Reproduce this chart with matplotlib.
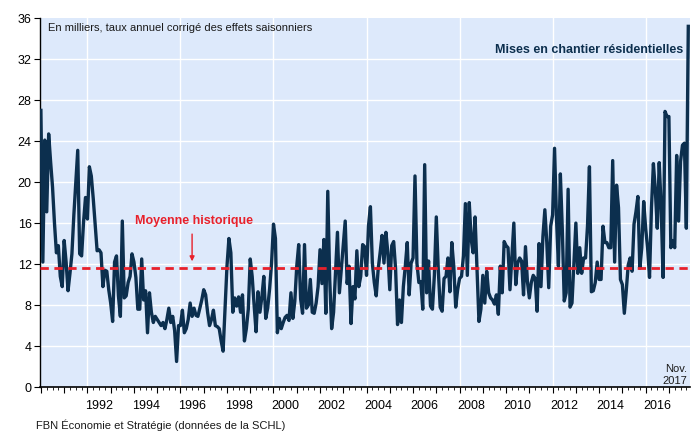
import numpy as np
import matplotlib
matplotlib.use("Agg")
import matplotlib.pyplot as plt

plt.rcParams['font.family'] = ['Liberation Sans', 'DejaVu Sans']

# mises en chantier, milliers (taux annuel desaisonnalise), jan 1990 - nov 2017
y1990 = [27.0, 12.2, 24.1, 17.1, 24.7, 22.0, 19.5, 16.0, 13.1, 13.8, 10.8, 9.8]
y1991 = [14.3, 12.2, 9.4, 11.1, 13.0, 16.8, 20.0, 23.1, 13.0, 12.8, 16.1, 18.5]
y1992 = [16.4, 21.5, 20.6, 18.4, 15.8, 13.3, 13.4, 13.1, 9.8, 11.4, 11.3, 9.5]
y1993 = [8.2, 6.4, 12.2, 12.8, 8.9, 6.9, 16.2, 8.7, 8.9, 10.2, 10.8, 13.0]
y1994 = [12.2, 10.7, 7.6, 7.6, 12.5, 8.5, 9.4, 5.3, 9.2, 7.3, 6.3, 6.9]
y1995 = [6.6, 6.3, 6.0, 6.3, 5.7, 6.6, 7.7, 6.3, 6.9, 5.5, 2.5, 6.0]
y1996 = [6.0, 7.5, 5.3, 5.7, 6.6, 8.2, 6.9, 7.7, 7.0, 6.9, 7.7, 8.5]
y1997 = [9.5, 9.0, 7.3, 6.0, 6.6, 7.5, 6.0, 5.9, 5.7, 4.5, 3.5, 7.6]
y1998 = [11.8, 14.5, 13.1, 7.3, 8.7, 7.9, 8.8, 7.3, 9.0, 4.5, 5.7, 7.6]
y1999 = [12.5, 10.8, 8.0, 5.4, 9.3, 7.3, 8.8, 10.8, 6.7, 7.7, 9.6, 12.1]
y2000 = [15.9, 14.5, 5.3, 6.7, 5.7, 6.3, 6.8, 7.0, 6.5, 9.2, 6.7, 8.4]
y2001 = [11.8, 13.9, 8.6, 7.2, 13.9, 7.7, 8.0, 10.5, 7.3, 7.2, 8.2, 9.8]
y2002 = [13.4, 10.1, 14.4, 7.2, 19.1, 10.5, 5.7, 7.3, 11.2, 15.1, 9.2, 11.5]
y2003 = [13.7, 16.2, 10.1, 11.8, 6.2, 9.8, 8.6, 13.3, 9.8, 10.8, 13.9, 13.7]
y2004 = [10.9, 15.7, 17.6, 12.1, 10.2, 8.9, 11.5, 13.1, 14.8, 12.1, 15.1, 13.1]
y2005 = [9.5, 13.8, 14.2, 11.5, 6.1, 8.5, 6.3, 9.8, 11.8, 14.1, 9.0, 12.1]
y2006 = [12.6, 20.6, 12.1, 10.2, 10.3, 7.6, 21.7, 9.2, 12.3, 7.9, 7.6, 10.9]
y2007 = [16.6, 11.5, 7.8, 7.4, 10.6, 10.8, 12.6, 9.3, 14.1, 11.8, 7.8, 9.5]
y2008 = [10.6, 10.8, 12.8, 17.9, 10.9, 18.0, 14.4, 13.1, 16.6, 11.5, 6.4, 7.6]
y2009 = [10.9, 8.2, 11.3, 9.2, 8.7, 8.5, 8.1, 9.0, 7.1, 11.8, 9.2, 14.2]
y2010 = [13.8, 13.6, 9.5, 12.8, 16.0, 10.0, 12.1, 12.6, 12.3, 9.0, 13.7, 10.3]
y2011 = [8.7, 10.2, 10.9, 10.6, 7.4, 14.0, 9.8, 14.7, 17.3, 14.1, 9.7, 15.7]
y2012 = [16.8, 23.3, 16.5, 11.8, 20.8, 15.4, 8.4, 9.2, 19.3, 7.8, 8.2, 12.1]
y2013 = [16.0, 11.1, 13.6, 11.1, 12.6, 12.6, 15.7, 21.5, 9.3, 9.4, 10.2, 12.2]
y2014 = [10.5, 10.5, 15.7, 14.1, 14.1, 13.6, 13.6, 22.1, 12.2, 19.7, 17.5, 10.5]
y2015 = [10.0, 7.2, 9.4, 11.9, 12.6, 11.3, 15.9, 17.1, 18.6, 11.6, 13.6, 18.1]
y2016 = [15.5, 13.6, 10.7, 17.5, 21.8, 19.2, 15.5, 21.9, 17.6, 10.7, 26.9, 26.4]
y2017 = [26.4, 13.6, 14.3, 13.6, 22.6, 16.2, 22.0, 23.6, 23.8, 15.5, 35.2]

starts = (y1990 + y1991 + y1992 + y1993 + y1994 + y1995 + y1996 + y1997 + y1998
          + y1999 + y2000 + y2001 + y2002 + y2003 + y2004 + y2005 + y2006 + y2007
          + y2008 + y2009 + y2010 + y2011 + y2012 + y2013 + y2014 + y2015 + y2016
          + y2017)
moyenne = 11.65
label_years = list(range(1992, 2017, 2))

t = 1990 + np.arange(len(starts)) / 12.0

fig = plt.figure(figsize=(6.94, 4.32), dpi=100)
ax = fig.add_axes([0.0576, 0.104, 0.9364, 0.854])
ax.set_facecolor('#dde9fb')

ax.set_xlim(1989.96, 2017.9)
ax.set_ylim(0, 36)

for g in range(4, 36, 4):
    ax.axhline(g, color='white', lw=1.0, zorder=1)
for g in range(1992, 2017, 4):
    ax.axvline(g, color='white', lw=1.0, zorder=1)

ax.plot(t, starts, color='#0c2f4e', lw=2.4, zorder=3, solid_joinstyle='round')
ax.axhline(moyenne, color='#e8212b', lw=2.0, ls=(0, (3, 2)), zorder=4)

ax.text(1990.3, 35.0, "En milliers, taux annuel corrigé des effets saisonniers",
        fontsize=8, va='center', ha='left', color='#1a1a1a')
ax.text(2017.6, 32.9, "Mises en chantier résidentielles", fontsize=9,
        fontweight='bold', color='#0c2f4e', ha='right', va='center')
ax.text(1996.6, 16.2, "Moyenne historique", fontsize=9, fontweight='bold',
        color='#e8212b', ha='center', va='center')
ax.annotate("", xy=(1996.5, 12.0), xytext=(1996.5, 15.2),
            arrowprops=dict(arrowstyle='-|>', color='#e8212b', lw=1.0,
                            mutation_scale=7))
ax.text(2017.78, 1.2, "Nov.\n2017", fontsize=8, ha='right', va='center',
        color='#1a1a1a', linespacing=1.2)

for s in ['top', 'right']:
    ax.spines[s].set_visible(False)
ax.spines['left'].set_color('black')
ax.spines['bottom'].set_color('black')
ax.spines['left'].set_linewidth(1.0)
ax.spines['bottom'].set_linewidth(1.2)

ax.set_yticks(range(0, 37, 4))
ax.tick_params(axis='y', labelsize=9, length=4, direction='out', pad=2)

ax.set_xticks(range(1990, 2018), labels=[])
ax.set_xticks(np.arange(1990, 2017.9, 0.25), minor=True)
ax.tick_params(axis='x', which='major', length=4, direction='out')
ax.tick_params(axis='x', which='minor', length=2, direction='out')
for yr in label_years:
    ax.text(yr + 0.5, -0.035, str(yr), transform=ax.get_xaxis_transform(),
            ha='center', va='top', fontsize=9)

fig.text(0.052, 0.002, "FBN Économie et Stratégie (données de la SCHL)",
         fontsize=8, ha='left', va='bottom', color='#1a1a1a')

fig.savefig("out.png", dpi=100)
